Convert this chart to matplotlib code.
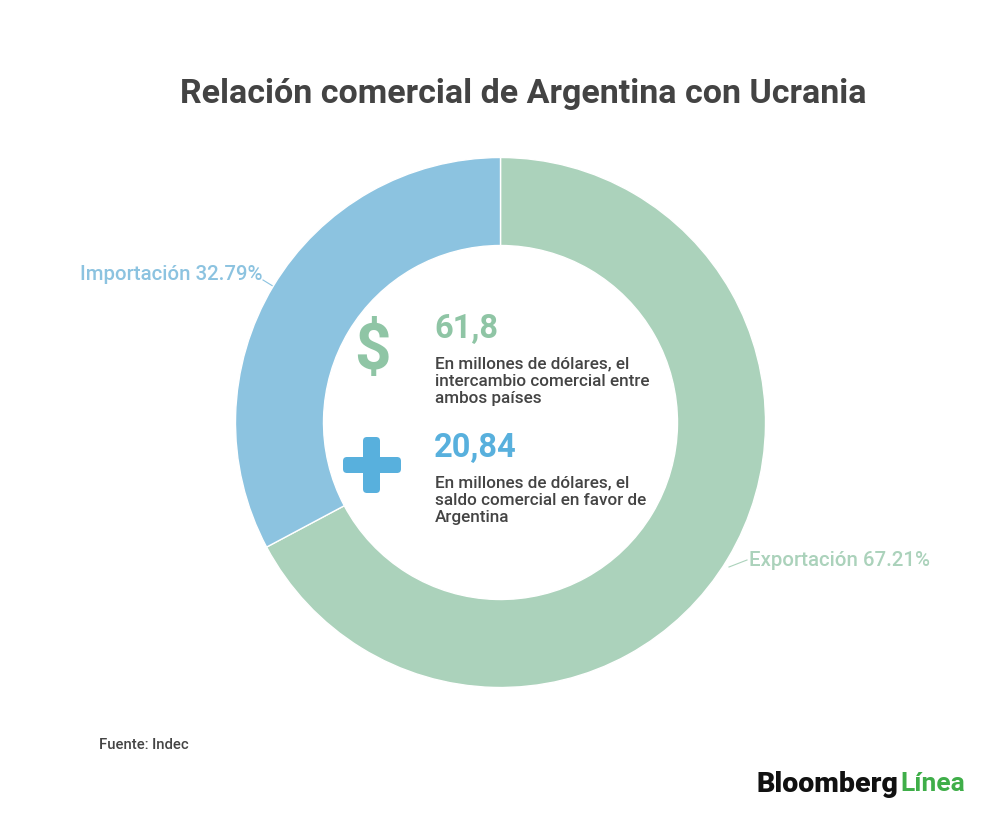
import matplotlib
matplotlib.use("Agg")
import matplotlib.pyplot as plt
from matplotlib.patches import FancyBboxPatch

labels = ["Exportación", "Importación"]
values = [67.21, 32.79]
colors = ["#abd2bb", "#8cc3e0"]
title = "Relación comercial de Argentina con Ucrania"
stat_values = ["61,8", "20,84"]
stat_colors = ["#8fc5a5", "#58b0dd"]
stat_notes = ["En millones de dólares, el\nintercambio comercial entre\nambos países",
              "En millones de dólares, el\nsaldo comercial en favor de\nArgentina"]
source = "Fuente: Indec"

plt.rcParams['font.family'] = ['Roboto', 'DejaVu Sans']
W, H = 1000, 817
fig = plt.figure(figsize=(W/100, H/100), dpi=100, facecolor="white")
bg = fig.add_axes([0, 0, 1, 1])
bg.set_xlim(0, W); bg.set_ylim(H, 0); bg.axis("off")

cx, cy, R = 500.5, 422.5, 265
ax = fig.add_axes([(cx-R)/W, 1-(cy+R)/H, 2*R/W, 2*R/H])
ax.pie(values, colors=colors, startangle=90, counterclock=False, radius=1,
       wedgeprops=dict(width=1-177/265, edgecolor="white", linewidth=1))
ax.set_xlim(-1, 1); ax.set_ylim(-1, 1); ax.set_aspect("equal")

bg.text(523, 93.5, title, ha="center", va="center", fontsize=24.5, fontweight="bold", color="#434343")
bg.text(80, 275, f"{labels[1]} {values[1]}%", ha="left", va="center", fontsize=14.7, fontweight="medium", color=colors[1])
bg.text(749, 561, f"{labels[0]} {values[0]}%", ha="left", va="center", fontsize=14.7, fontweight="medium", color=colors[0])
bg.plot([263, 276], [280, 288], color=colors[1], lw=0.8)
bg.plot([729, 747], [567, 560], color=colors[0], lw=0.8)

bg.text(434, 329, stat_values[0], ha="left", va="center", fontsize=23.5, fontweight="bold", color=stat_colors[0])
bg.text(434, 448, stat_values[1], ha="left", va="center", fontsize=23.5, fontweight="bold", color=stat_colors[1])
bg.text(435, 381, stat_notes[0], ha="left", va="center", fontsize=12.3, fontweight="medium", color="#444444", linespacing=1.17)
bg.text(435, 500, stat_notes[1], ha="left", va="center", fontsize=12.3, fontweight="medium", color="#444444", linespacing=1.17)

bg.text(372, 351, "$", ha="center", va="center", fontsize=46, fontweight="bold", color=stat_colors[0])
bg.add_patch(FancyBboxPatch((343, 457), 58, 16, boxstyle="round,pad=0,rounding_size=4", fc=stat_colors[1], ec="none"))
bg.add_patch(FancyBboxPatch((363, 437), 17, 56, boxstyle="round,pad=0,rounding_size=4", fc=stat_colors[1], ec="none"))

bg.text(99, 745, source, ha="left", va="center", fontsize=10.6, fontweight="medium", color="#444444")
bg.text(757, 784, "Bloomberg", ha="left", va="center", fontsize=20.5, fontweight="black", color="#111111")
bg.text(900, 784, "Línea", ha="left", va="center", fontsize=19, fontweight="bold", color="#3fae49")

fig.savefig("out.png", dpi=100, facecolor="white")
